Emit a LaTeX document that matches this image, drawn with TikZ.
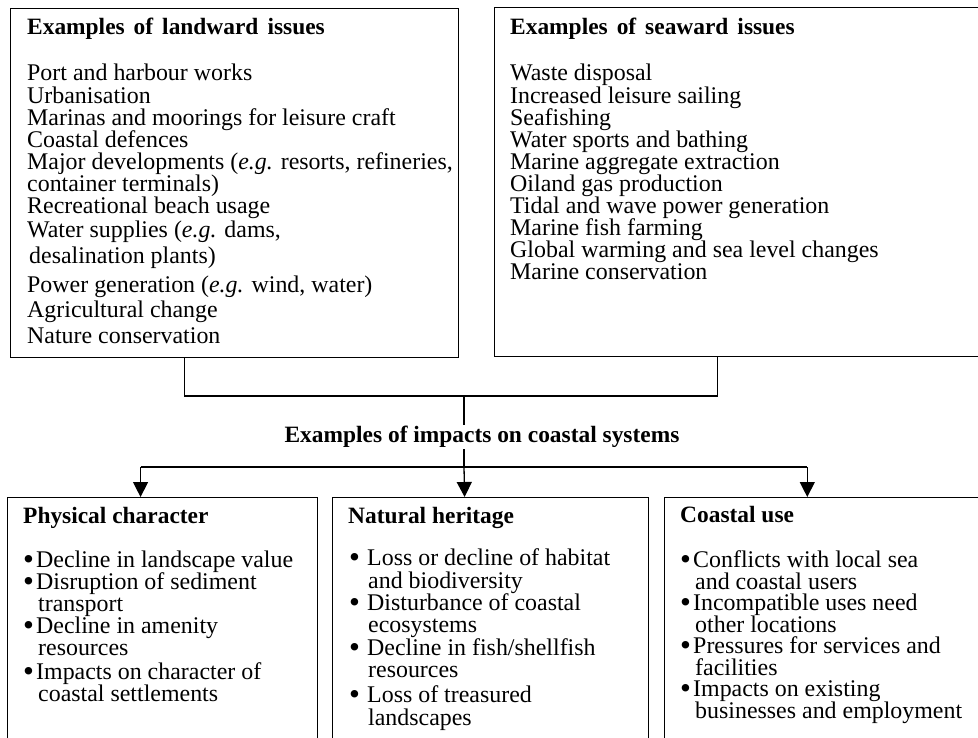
\documentclass[tikz,border=0pt]{standalone}
\usepackage{fontspec}
\usepackage{graphicx}
\setmainfont{Liberation Serif}
\usetikzlibrary{arrows.meta,calc}
\newcommand\bodysize{\fontsize{24}{24}\selectfont}
\newcommand\headsize{\fontsize{23.5}{24}\selectfont\bfseries}
\newcommand\wide{\spaceskip=9bp plus 1bp\relax}
\newcommand\bul[1]{\makebox[#1][l]{\raisebox{-2.6bp}{\scalebox{1.3}{\textbullet}}}}
\begin{document}
\begin{tikzpicture}[x=1bp,y=-1bp,
  box/.style={draw, line width=1.3bp, rectangle, inner sep=0pt, anchor=north west},
  head/.style={anchor=base west, inner sep=0pt, font=\headsize},
  item/.style={anchor=base west, inner sep=0pt, font=\bodysize},
  link/.style={line width=1.3bp},
  arr/.style={link, -{Triangle[width=15bp,length=15bp]}}]
\useasboundingbox (0,0) rectangle (978,738);
\clip (0,0) rectangle (978,738);

% frames
\node[box, minimum width=448bp, minimum height=349bp] (land) at (10,8) {};
\node[box, minimum width=500bp, minimum height=349bp] (sea) at (494,7) {};
\node[box, minimum width=310bp, minimum height=270bp] (phys) at (7,497) {};
\node[box, minimum width=316bp, minimum height=270bp] (nat) at (332,497) {};
\node[box, minimum width=330bp, minimum height=270bp] (use) at (664,497) {};

% landward issues
\node[head] (landhead) at (27,35) {\wide Examples of landward issues};
\foreach \y/\t [count=\i] in {
  81/{Port and harbour works},
  103/{Urbanisation},
  125/{Marinas and moorings for leisure craft},
  147/{Coastal defences},
  169/{Major developments (\textit{e.g.} resorts, refineries,},
  191/{container terminals)},
  213/{Recreational beach usage},
  237/{Water supplies (\textit{e.g.} dams,}}
  \node[item] (land\i) at (27,\y) {\t};
\node[item] (land9) at (29,263) {desalination plants)};
\foreach \y/\t [count=\i from 10] in {
  292/{Power generation (\textit{e.g.} wind, water)},
  317/{Agricultural change},
  343/{Nature conservation}}
  \node[item] (land\i) at (27,\y) {\t};

% seaward issues
\node[head] (seahead) at (510,35) {\wide Examples of seaward issues};
\foreach \y/\t [count=\i] in {
  81/{Waste disposal},
  103/{Increased leisure sailing},
  125/{Seafishing},
  147/{Water sports and bathing},
  169/{Marine aggregate extraction},
  191/{Oiland gas production},
  213/{Tidal and wave power generation},
  235/{Marine fish farming},
  257/{Global warming and sea level changes},
  279/{Marine conservation}}
  \node[item] (sea\i) at (510,\y) {\t};

% physical character
\node[head] (physhead) at (23,523) {Physical character};
\foreach \y/\t [count=\i] in {
  567/{\bul{13bp}Decline in landscape value},
  589/{\bul{13bp}Disruption of sediment},
  633/{\bul{13bp}Decline in amenity},
  679/{\bul{13bp}Impacts on character of}}
  \node[item] (physb\i) at (23,\y) {\t};
\foreach \y/\t [count=\i] in {
  611/{transport},
  655/{resources},
  701/{coastal settlements}}
  \node[item] (physc\i) at (38,\y) {\t};

% natural heritage
\node[head] (nathead) at (348,523) {Natural heritage};
\foreach \y/\t [count=\i] in {
  565/{\bul{18bp}Loss or decline of habitat},
  610/{\bul{18bp}Disturbance of coastal},
  655/{\bul{18bp}Decline in fish/shellfish},
  702/{\bul{18bp}Loss of treasured}}
  \node[item] (natb\i) at (349,\y) {\t};
\foreach \y/\t [count=\i] in {
  588/{and biodiversity},
  632/{ecosystems},
  677/{resources},
  725/{landscapes}}
  \node[item] (natc\i) at (368,\y) {\t};

% coastal use
\node[head] (usehead) at (680,522) {Coastal use};
\foreach \y/\t [count=\i] in {
  567/{\bul{13bp}Conflicts with local sea},
  610/{\bul{13bp}Incompatible uses need},
  653/{\bul{13bp}Pressures for services and},
  696/{\bul{13bp}Impacts on existing}}
  \node[item] (useb\i) at (680,\y) {\t};
\foreach \y/\t [count=\i] in {
  589/{and coastal users},
  632/{other locations},
  675/{facilities},
  718/{businesses and employment}}
  \node[item] (usec\i) at (695,\y) {\t};

% connectors
\coordinate (landfoot) at ($(land.south west)!0.388!(land.south east)$);
\coordinate (seafoot) at ($(sea.south west)!0.446!(sea.south east)$);
\coordinate (join) at (464,396);
\coordinate (fork) at (464,467);
\node[font=\headsize, inner sep=1.5bp] (impacts) at (482,437) {Examples of impacts on coastal systems};

\draw[link] (landfoot) -- (landfoot |- join) -- (seafoot |- join) -- (seafoot);
\draw[link] (join) -- (join |- impacts.north);
\draw[link] (join |- impacts.south) -- (fork);

\coordinate (physhead-in) at ($(phys.north west)!0.429!(phys.north east)$);
\coordinate (nathead-in) at ($(nat.north west)!0.418!(nat.north east)$);
\coordinate (usehead-in) at ($(use.north west)!0.4325!(use.north east)$);
\draw[link] (physhead-in |- fork) -- (usehead-in |- fork);
\draw[arr] (physhead-in |- fork) -- (physhead-in);
\draw[arr] (fork) -- (nathead-in);
\draw[arr] (usehead-in |- fork) -- (usehead-in);
\end{tikzpicture}
\end{document}
